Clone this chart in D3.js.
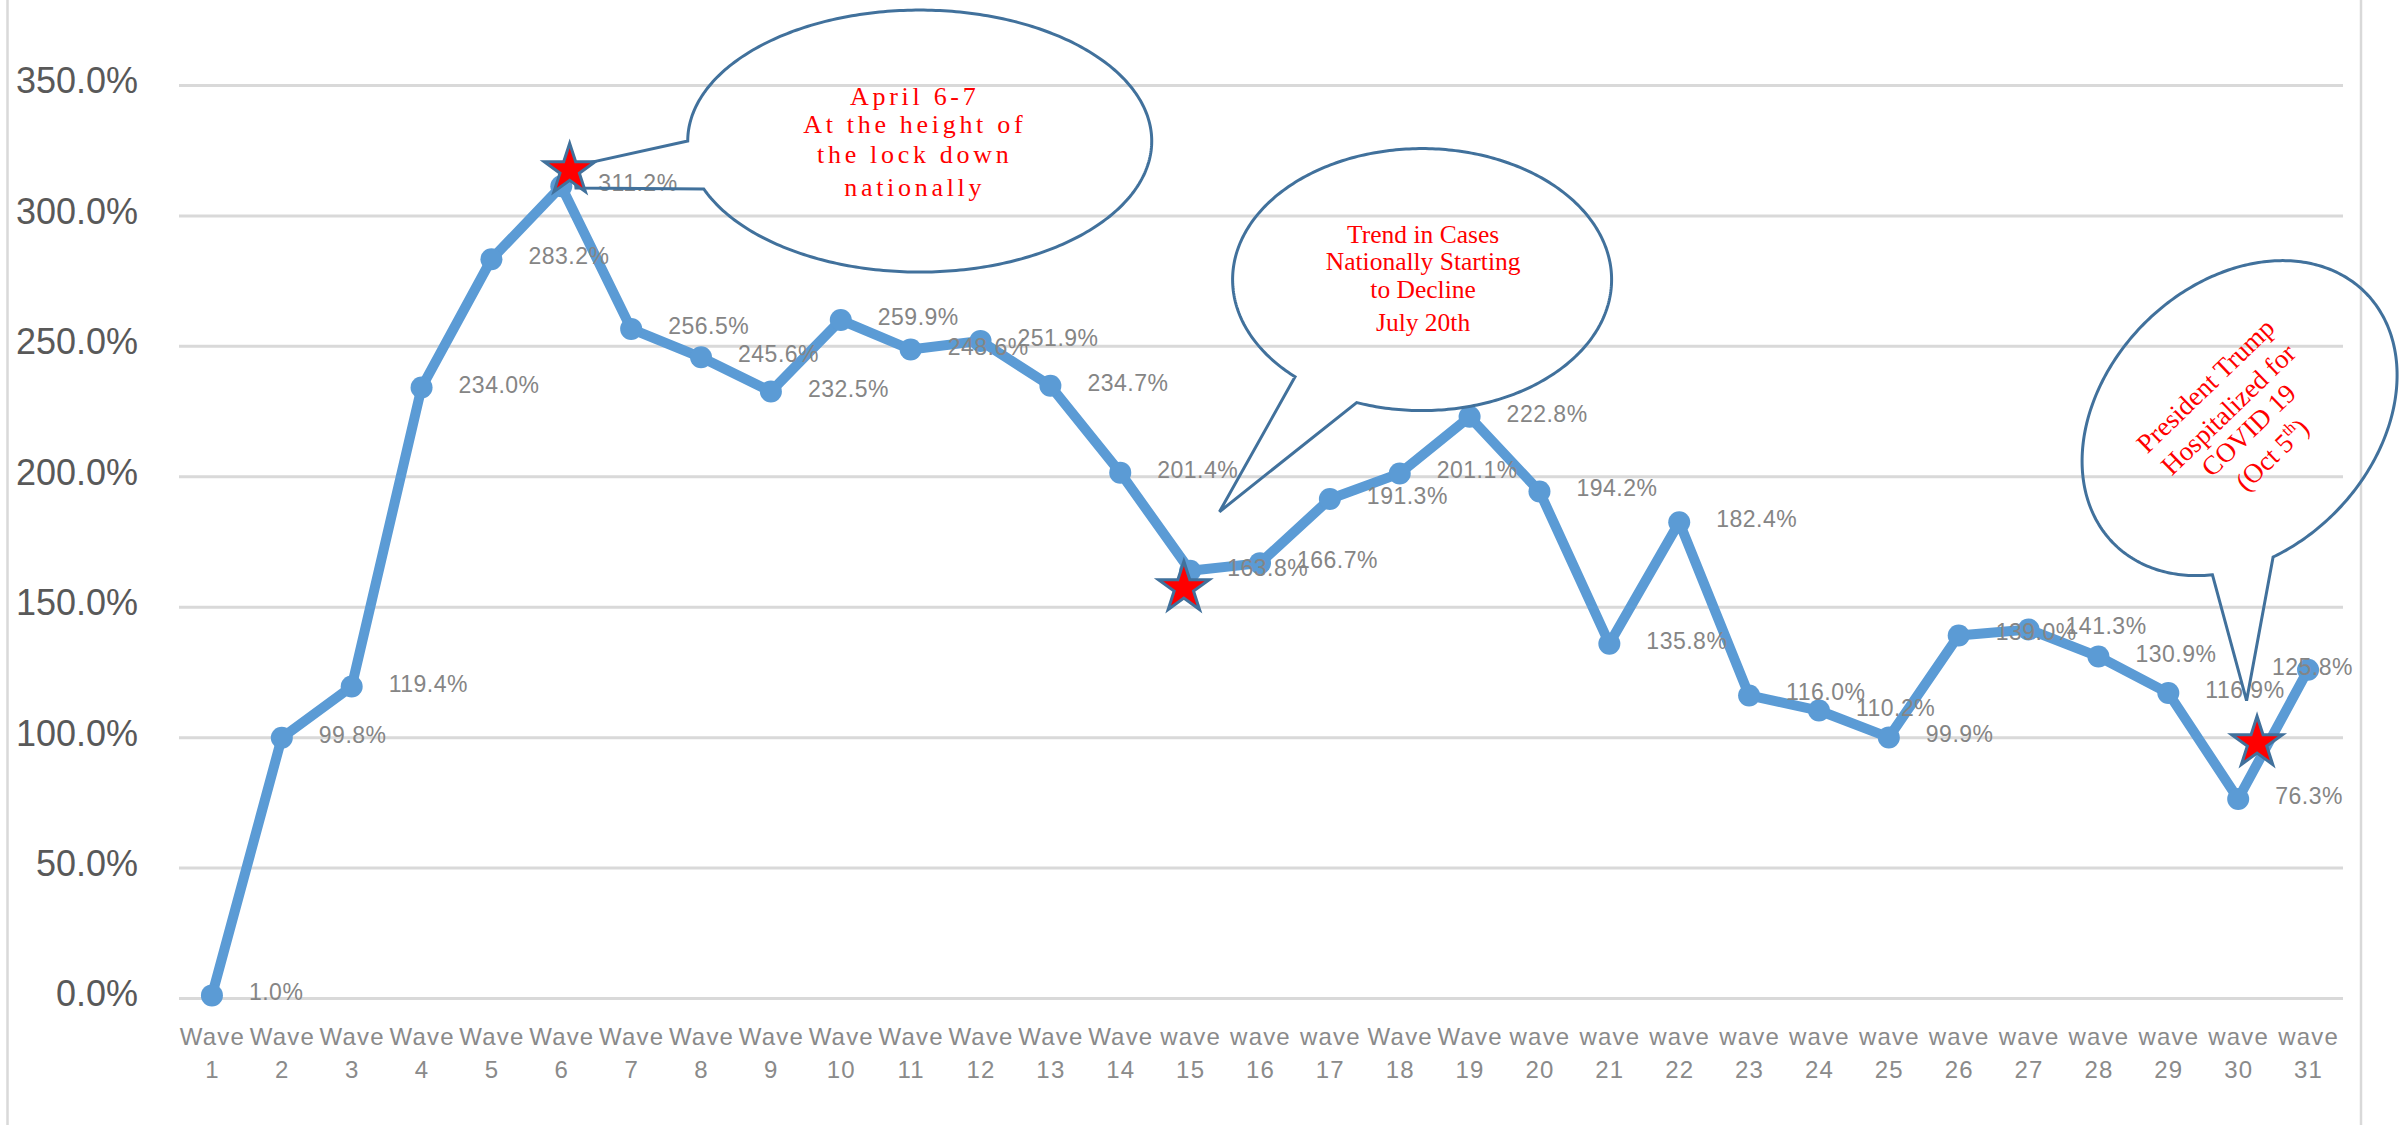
<!DOCTYPE html>
<html>
<head>
<meta charset="utf-8">
<script src="https://cdnjs.cloudflare.com/ajax/libs/d3/7.8.5/d3.min.js"></script>
<style>
  body { margin: 0; background: #fff; }
  svg { display: block; }
</style>
</head>
<body>
<div id="chart"></div>
<script>
// dados
const waveNumbers = [1, 2, 3, 4, 5, 6, 7, 8, 9, 10, 11, 12, 13, 14, 15, 16, 17, 18, 19, 20, 21, 22, 23, 24, 25, 26, 27, 28, 29, 30, 31];
const waveNames = ["Wave", "Wave", "Wave", "Wave", "Wave", "Wave", "Wave", "Wave", "Wave", "Wave", "Wave", "Wave", "Wave", "Wave",
    "wave", "wave", "wave", "Wave", "Wave", "wave", "wave", "wave", "wave", "wave", "wave", "wave", "wave", "wave", "wave", "wave", "wave"];
const values = [1.0, 99.8, 119.4, 234.0, 283.2, 311.2, 256.5, 245.6, 232.5, 259.9, 248.6, 251.9, 234.7, 201.4, 163.8,
    166.7, 191.3, 201.1, 222.8, 194.2, 135.8, 182.4, 116.0, 110.2, 99.9, 139.0, 141.3, 130.9, 116.9, 76.3, 125.8];
const yTicks = [0, 50, 100, 150, 200, 250, 300, 350];

// estrelas vermelhas (posicao em unidades do grafico: wave, %)
const starWaves = [6.12, 14.91, 30.27];
const starValues = [317.4, 157.2, 97.8];

// baloes (centro e ponta em unidades do grafico, raios em px)
const callouts = [
    { cx: 11.13, cy: 328.5, rx: 232, ry: 131, rot: 0, a: 180, b: 158.6, tip: [[6.21, 310.5], [6.18, 318.9]] },
    { cx: 18.32, cy: 275.4, rx: 189.5, ry: 131, rot: 0, a: 132.1, b: 110.2, tip: [[15.42, 186.4]] },
    { cx: 30.02, cy: 222.3, rx: 177.7, ry: 134.3, rot: -45, a: 137, b: 114.8, tip: [[30.12, 114.0]] }
];
const calloutTexts = [
    { lines: [["April 6-7"], ["At the height of"], ["the lock down"], ["nationally"]], base: [-36, -8, 22, 55], dx: -5, size: 26, spacing: 3.7, rot: 0 },
    { lines: [["Trend in Cases"], ["Nationally Starting"], ["to Decline"], ["July 20th"]], base: [-37, -10, 18, 51], dx: 1, size: 25.5, spacing: 0, rot: 0 },
    { lines: [["President Trump"], ["Hospitalized for"], ["COVID 19"], ["(Oct 5", "th", ")"]], base: [-38, -5, 24, 58], dx: -2, size: 27, spacing: 0, rot: -44 }
];

const width = 2405, height = 1125;
const plotLeft = 177, plotRight = 2343, plotTop = 85, plotBottom = 998;

const svg = d3.select('#chart')
    .append('svg')
    .attr('width', width)
    .attr('height', height);

svg.append('rect').attr('width', width).attr('height', height).attr('fill', '#fff');

// moldura da area do grafico
svg.append('rect')
    .attr('x', 7.5).attr('y', -10)
    .attr('width', 2361 - 7.5).attr('height', height + 20)
    .attr('fill', 'none')
    .attr('stroke', '#d9d9d9')
    .attr('stroke-width', 2.5);

const x = d3.scaleLinear().domain([0.5, 31.5]).range([plotLeft, plotRight]);
const y = d3.scaleLinear().domain([0, 350]).range([plotBottom, plotTop]);

// linhas de grade
const grid = svg.append('g')
    .attr('transform', `translate(${plotLeft + 2},0)`)
    .call(d3.axisLeft(y).tickValues(yTicks).tickSize(-(plotRight - plotLeft - 2)).tickFormat(''));
grid.select('.domain').remove();
grid.selectAll('line').attr('stroke', '#d9d9d9').attr('stroke-width', 3);

// eixo y
const yAxis = svg.append('g')
    .attr('transform', `translate(${plotLeft},0)`)
    .call(d3.axisLeft(y).tickValues(yTicks).tickSize(0).tickPadding(39).tickFormat(d => d.toFixed(1) + '%'));
yAxis.select('.domain').remove();
yAxis.selectAll('text')
    .attr('dy', '0.22em')
    .attr('fill', '#595959')
    .style('font-family', '"Liberation Sans", Arial, sans-serif')
    .style('font-size', '36px');

// eixo x (duas linhas: Wave / numero)
const xAxis = svg.append('g')
    .attr('transform', `translate(0,${plotBottom})`)
    .call(d3.axisBottom(x).tickValues(waveNumbers).tickSize(0).tickFormat(''));
xAxis.select('.domain').remove();
xAxis.selectAll('.tick').each(function (d, i) {
    const t = d3.select(this).select('text')
        .attr('y', 0).attr('dy', null)
        .attr('fill', '#8a8a8a')
        .style('font-family', '"Liberation Sans", Arial, sans-serif')
        .style('font-size', '24px')
        .style('letter-spacing', '1.2px');
    t.append('tspan').attr('x', 0).attr('y', 47).text(waveNames[i]);
    t.append('tspan').attr('x', 0).attr('y', 80).text(waveNumbers[i]);
});

// serie
const points = waveNumbers.map((w, i) => ({ w: w, v: values[i] }));

svg.append('path')
    .datum(points)
    .attr('fill', 'none')
    .attr('stroke', '#5b9bd5')
    .attr('stroke-width', 10)
    .attr('stroke-linejoin', 'round')
    .attr('d', d3.line().x(d => x(d.w)).y(d => y(d.v)));

svg.append('g')
    .selectAll('circle')
    .data(points)
    .join('circle')
    .attr('cx', d => x(d.w))
    .attr('cy', d => y(d.v))
    .attr('r', 11)
    .attr('fill', '#5b9bd5');

// rotulos de dados (a direita do ponto, sem sair da area do grafico)
svg.append('g')
    .selectAll('text')
    .data(points)
    .join('text')
    .attr('y', d => y(d.v) + 5)
    .attr('fill', '#858585')
    .style('font-family', '"Liberation Sans", Arial, sans-serif')
    .style('font-size', '23px')
    .style('letter-spacing', '0.5px')
    .text(d => d.v.toFixed(1) + '%')
    .attr('x', function (d) {
        const w = this.getComputedTextLength();
        return Math.min(x(d.w) + 37, plotRight + 10 - w);
    });

// baloes
function calloutPoints(c) {
    const cx = x(c.cx), cy = y(c.cy);
    const rot = c.rot * Math.PI / 180;
    const pt = phi => {
        const a = phi * Math.PI / 180;
        const lx = c.rx * Math.cos(a), ly = c.ry * Math.sin(a);
        return [cx + lx * Math.cos(rot) - ly * Math.sin(rot), cy + lx * Math.sin(rot) + ly * Math.cos(rot)];
    };
    let b = c.b;
    if (b < c.a) b += 360;
    const pts = [];
    for (let p = c.a; p < b; p += 1) pts.push(pt(p));
    pts.push(pt(b));
    c.tip.forEach(t => pts.push([x(t[0]), y(t[1])]));
    return pts;
}

svg.append('g')
    .selectAll('path')
    .data(callouts)
    .join('path')
    .attr('d', d => d3.line()(calloutPoints(d)) + 'Z')
    .attr('fill', 'none')
    .attr('stroke', '#41719c')
    .attr('stroke-width', 3)
    .attr('stroke-linejoin', 'miter');

calloutTexts.forEach((ct, k) => {
    const c = callouts[k];
    const g = svg.append('g')
        .attr('transform', `translate(${x(c.cx)},${y(c.cy)}) rotate(${ct.rot})`);
    ct.lines.forEach((parts, j) => {
        const t = g.append('text')
            .attr('x', ct.dx)
            .attr('y', ct.base[j])
            .attr('text-anchor', 'middle')
            .attr('fill', '#ff0000')
            .style('font-family', '"Liberation Serif", "Times New Roman", serif')
            .style('font-size', ct.size + 'px')
            .style('letter-spacing', ct.spacing + 'px');
        if (parts.length === 1) {
            t.text(parts[0]);
        } else {
            t.append('tspan').text(parts[0]);
            t.append('tspan').attr('dy', -11).style('font-size', (ct.size * 0.6) + 'px').text(parts[1]);
            t.append('tspan').attr('dy', 11).text(parts[2]);
        }
    });
});

// estrelas
svg.append('g')
    .selectAll('path')
    .data(starWaves.map((w, i) => ({ w: w, v: starValues[i] })))
    .join('path')
    .attr('transform', d => `translate(${x(d.w)},${y(d.v)})`)
    .attr('d', d3.symbol().type(d3.symbolStar).size(800))
    .attr('fill', '#ff0000')
    .attr('stroke', '#41719c')
    .attr('stroke-width', 3)
    .attr('stroke-linejoin', 'miter');
</script>
</body>
</html>
